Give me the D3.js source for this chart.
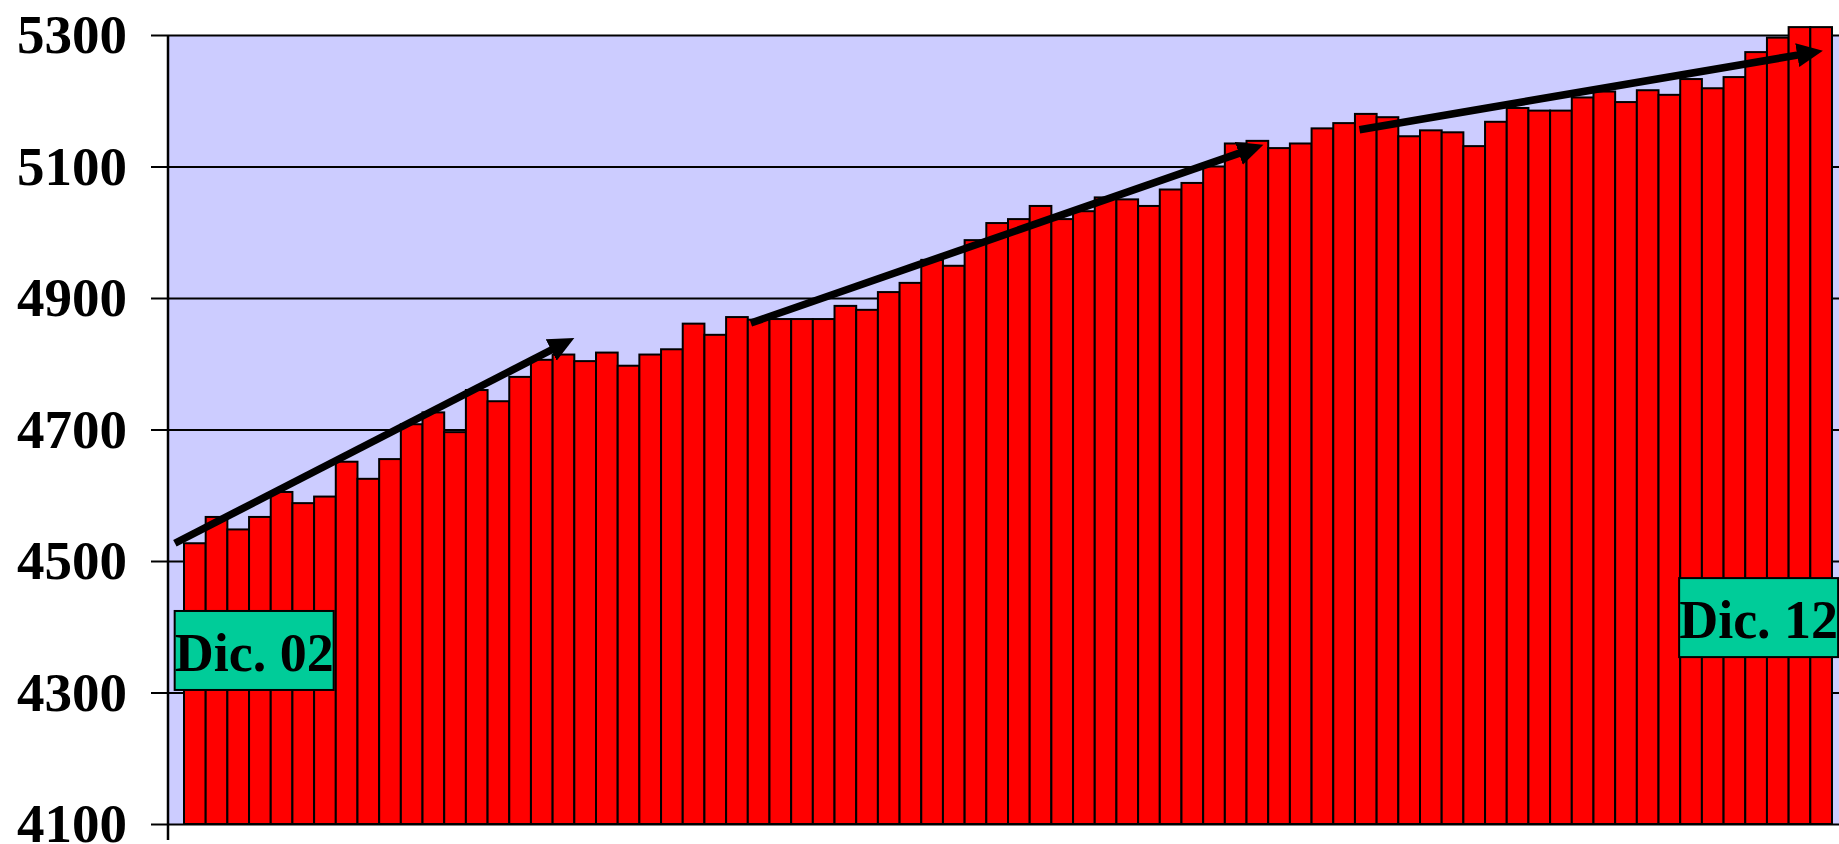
<!DOCTYPE html>
<html>
<head>
<meta charset="utf-8">
<script src="https://cdn.jsdelivr.net/npm/d3@7"></script>
<style>
  body { margin: 0; background: #fff; }
  svg { display: block; }
</style>
</head>
<body>
<div id="chart"></div>
<script>
const [width, height] = [1839, 844];

// bar values, one per period, Dic. 02 -> Dic. 12
const values = [
  4527, 4567, 4548, 4567, 4605, 4588, 4598, 4651, 4625, 4655,
  4708, 4726, 4696, 4760, 4743, 4780, 4806, 4814, 4804, 4817,
  4797, 4814, 4822, 4861, 4844, 4871, 4867, 4868, 4868, 4868,
  4888, 4882, 4909, 4923, 4958, 4949, 4988, 5014, 5020, 5040,
  5020, 5032, 5053, 5050, 5040, 5065, 5075, 5100, 5135, 5139,
  5128, 5135, 5158, 5166, 5180, 5175, 5146, 5155, 5152, 5131,
  5168, 5189, 5185, 5185, 5205, 5214, 5198, 5216, 5209, 5233,
  5219, 5236, 5274, 5296, 5312, 5312
];
const categories = values.map((d, i) => i);
const yTicks = [4100, 4300, 4500, 4700, 4900, 5100, 5300];

// trend arrows: [bar position, value] start and end
const arrows = [
  [[-0.42, 4527], [18.0, 4839]],
  [[26.14, 4862], [49.78, 5133]],
  [[54.21, 5156], [75.58, 5276]]
];
// period labels: text, bar position of left edge, value of top edge
const periodLabels = [
  {text: "Dic. 02", pos: -0.43, top: 4424},
  {text: "Dic. 12", pos: 68.95, top: 4474}
];

const plotLeft = 168, plotRight = 1846;

const svg = d3.select("#chart")
  .append("svg")
  .attr("width", width)
  .attr("height", height);

const x = d3.scaleBand()
  .domain(categories)
  .range([184, 1832])
  .padding(0);

const y = d3.scaleLinear()
  .domain([4100, 5300])
  .range([824, 35]);

const xPos = t => x(0) + t * x.step();

// plot background
svg.append("rect")
  .attr("x", plotLeft)
  .attr("y", y(5300))
  .attr("width", plotRight - plotLeft)
  .attr("height", y(4100) - y(5300))
  .attr("fill", "#CCCCFF");

// gridlines
svg.append("g")
  .attr("transform", `translate(${plotLeft},0)`)
  .call(d3.axisLeft(y).tickValues(yTicks).tickSize(-(plotRight - plotLeft)).tickFormat(""))
  .call(g => g.select(".domain").remove())
  .call(g => g.selectAll("line").attr("stroke", "#000").attr("stroke-width", 2));

// bars
svg.selectAll(".bar")
  .data(values)
  .enter()
  .append("rect")
  .attr("class", "bar")
  .attr("x", (d, i) => x(i))
  .attr("width", x.bandwidth())
  .attr("y", d => y(d))
  .attr("height", d => y(4100) - y(d))
  .attr("fill", "#FF0000")
  .attr("stroke", "#000")
  .attr("stroke-width", 2);

// y axis
const yAxis = svg.append("g")
  .attr("transform", `translate(${plotLeft},0)`)
  .call(d3.axisLeft(y).tickValues(yTicks).tickSize(17).tickPadding(24).tickFormat(d3.format("d")))
  .call(g => g.select(".domain").remove());
yAxis.selectAll("line").attr("stroke", "#000").attr("stroke-width", 2);
yAxis.selectAll("text")
  .attr("fill", "#000")
  .style("font-family", "'Liberation Serif', 'Times New Roman', serif")
  .style("font-weight", "bold")
  .style("font-size", "55px");

svg.append("line")
  .attr("x1", plotLeft).attr("x2", plotLeft)
  .attr("y1", y(5300)).attr("y2", 840)
  .attr("stroke", "#000")
  .attr("stroke-width", 2.5);

// arrowheads
svg.append("defs").append("marker")
  .attr("id", "head")
  .attr("markerUnits", "userSpaceOnUse")
  .attr("markerWidth", 28)
  .attr("markerHeight", 26)
  .attr("refX", 12)
  .attr("refY", 13)
  .attr("orient", "auto")
  .append("path")
  .attr("d", "M0,1 L26,13 L0,25 Z")
  .attr("fill", "#000");

arrows.forEach(([s, e]) => {
  const x1 = xPos(s[0]), y1 = y(s[1]);
  const x2 = xPos(e[0]), y2 = y(e[1]);
  const len = Math.hypot(x2 - x1, y2 - y1);
  const k = (len - 14) / len;
  svg.append("line")
    .attr("x1", x1).attr("y1", y1)
    .attr("x2", x1 + (x2 - x1) * k).attr("y2", y1 + (y2 - y1) * k)
    .attr("stroke", "#000")
    .attr("stroke-width", 7.5)
    .attr("marker-end", "url(#head)");
});

// period labels
periodLabels.forEach(l => {
  const bx = xPos(l.pos), by = y(l.top);
  const g = svg.append("g").attr("transform", `translate(${bx},${by})`);
  g.append("rect")
    .attr("width", 159)
    .attr("height", 79)
    .attr("fill", "#00CC99")
    .attr("stroke", "#000")
    .attr("stroke-width", 2);
  g.append("text")
    .attr("x", 79.5)
    .attr("y", 60)
    .attr("text-anchor", "middle")
    .style("font-family", "'Liberation Serif', 'Times New Roman', serif")
    .style("font-weight", "bold")
    .style("font-size", "54px")
    .text(l.text);
});
</script>
</body>
</html>
